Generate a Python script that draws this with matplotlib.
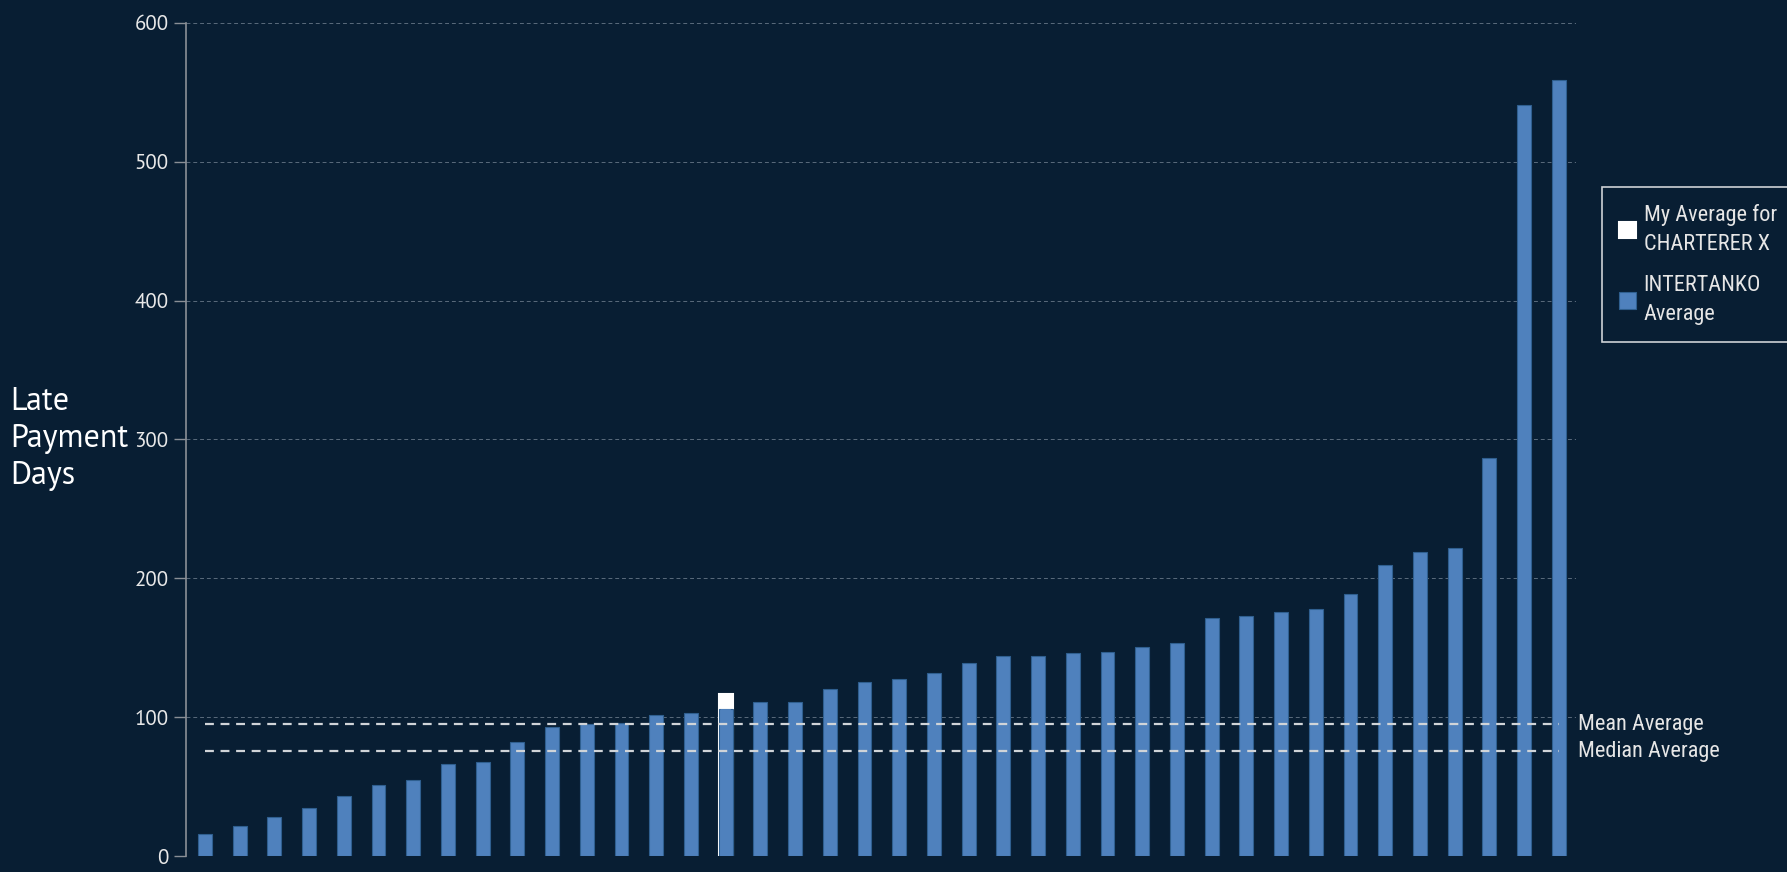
import matplotlib.pyplot as plt

# late payment days per charterer, sorted ascending
intertanko_avg = [16, 22, 28, 34.5, 43.5, 51.5, 55, 66.5, 68, 82,
                  93, 95, 96, 102, 103, 106, 111, 111, 120.5, 125.5,
                  127.5, 132, 139, 144, 144, 146, 147, 150.5, 153.5, 171.5,
                  173, 176, 178, 189, 210, 219, 222, 286.5, 541, 559]
my_avg = 116.5          # my own figure for charterer X
my_index = 15           # position of charterer X in the sorted list
mean_avg = 95
median_avg = 75.5

bg = '#081e33'
blue = '#4f81bd'
narrow = ['Roboto Condensed', 'PT Sans Narrow', 'Fira Sans Condensed', 'Open Sans', 'DejaVu Sans']
plain = ['PT Sans', 'Open Sans', 'DejaVu Sans']

fig = plt.figure(figsize=(17.87, 8.72), dpi=100, facecolor=bg)
ax = fig.add_axes([0.104, 0.018, 0.778, 0.956], facecolor=bg)

x = list(range(len(intertanko_avg)))
ax.bar(x, intertanko_avg, width=0.4, color=blue, edgecolor='#2f5f8f', linewidth=0.8,
       zorder=3, label='INTERTANKO\nAverage')

# charterer X: white bar behind, INTERTANKO value drawn inside it
ax.bar(my_index, my_avg, width=0.4, color='white', edgecolor='white', linewidth=1.5,
       zorder=2, label='My Average for\nCHARTERER X')
ax.bar(my_index, intertanko_avg[my_index], width=0.3, color=blue, linewidth=0, zorder=4,
       snap=False)

ax.hlines([mean_avg, median_avg], 0, len(x) - 1, colors='#d0d4d8', linestyles=(0, (4, 3)),
          linewidth=1.6, zorder=5)
ax.text(len(x) - 0.45, mean_avg, 'Mean Average', color='#e6e6e6', fontsize=16,
        family=narrow, va='center', ha='left')
ax.text(len(x) - 0.45, median_avg, 'Median Average', color='#e6e6e6', fontsize=16,
        family=narrow, va='center', ha='left')

ax.set_xlim(-0.55, len(x) - 0.5)
ax.set_ylim(0, 600)
ax.set_yticks(range(0, 601, 100))
ax.set_xticks([])
ax.yaxis.grid(True, color='#5a6b7c', linestyle=(0, (4, 3)), linewidth=0.7)
ax.set_axisbelow(True)
for side in ['top', 'right', 'bottom']:
    ax.spines[side].set_visible(False)
ax.spines['left'].set_color('#8a8f96')
ax.spines['left'].set_linewidth(1.2)
ax.tick_params(axis='y', colors='#8a8f96', length=9, width=1, direction='out')
for lbl in ax.get_yticklabels():
    lbl.set_color('#e8e8e8')
    lbl.set_fontsize(15)
    lbl.set_family(plain)

fig.text(0.006, 0.497, 'Late\nPayment\nDays', color='white', fontsize=23,
         family=plain, ha='left', va='center', linespacing=1.3)

handles, labels = ax.get_legend_handles_labels()
leg = fig.legend(handles[::-1], labels[::-1], loc='upper left',
                 bbox_to_anchor=(0.8967, 0.785), borderaxespad=0, frameon=True,
                 fancybox=False, facecolor=bg, edgecolor='white', handlelength=0.75,
                 handleheight=0.75, handletextpad=0.35, labelspacing=0.9, borderpad=0.75,
                 prop={'family': narrow, 'size': 16})
leg.get_frame().set_linewidth(1.2)
for t in leg.get_texts():
    t.set_color('#e6e6e6')
    t.set_linespacing(1.5)

fig.savefig('out.png', dpi=100, facecolor=bg)
